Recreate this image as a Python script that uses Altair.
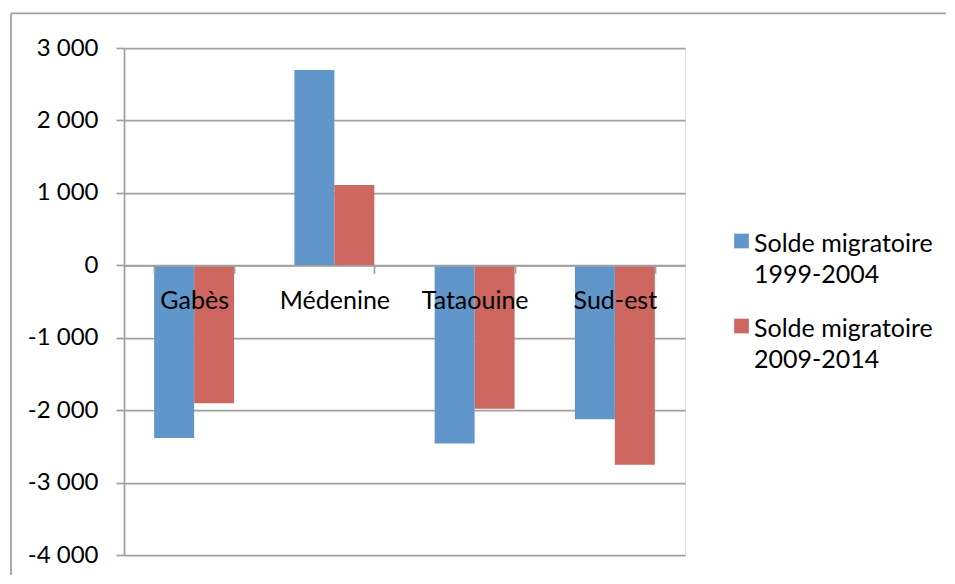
import altair as alt
import pandas as pd

categories = ["Gabès", "Médenine", "Tataouine", "Sud-est"]
series = ["Solde migratoire 1999-2004", "Solde migratoire 2009-2014"]
values_1999_2004 = [-2385, 2695, -2460, -2125]
values_2009_2014 = [-1905, 1110, -1980, -2755]
colors = ["#6096CA", "#CD6760"]

rows = []
for c, v1, v2 in zip(categories, values_1999_2004, values_2009_2014):
    rows.append({"region": c, "serie": series[0], "valeur": v1})
    rows.append({"region": c, "serie": series[1], "valeur": v2})
df = pd.DataFrame(rows)

W = 561
H = 507
FONT = "Lato"
GRID = "#A0A0A0"
# square legend symbol raised so that it sits beside the first label line
SYMBOL = "M-1,-2.43L1,-2.43L1,-0.43L-1,-0.43Z"

bars = alt.Chart(df).mark_bar().encode(
    x=alt.X(
        "region:N",
        sort=categories,
        scale=alt.Scale(paddingInner=0.43, paddingOuter=0.215),
        axis=alt.Axis(
            title=None,
            orient="bottom",
            offset=-(H * 4 / 7),
            zindex=1,
            domainColor=GRID,
            domainWidth=1.75,
            tickColor=GRID,
            tickWidth=1.75,
            tickSize=8,
            tickBand="extent",
            labelAngle=0,
            labelFont=FONT,
            labelFontSize=25,
            labelColor="#000000",
            labelPadding=35,
            labelBaseline="alphabetic",
            grid=False,
        ),
    ),
    xOffset=alt.XOffset("serie:N", sort=series, scale=alt.Scale(paddingInner=0)),
    y=alt.Y(
        "valeur:Q",
        scale=alt.Scale(domain=[-4000, 3000], nice=False, zero=False),
        axis=alt.Axis(
            title=None,
            values=[-4000, -3000, -2000, -1000, 0, 1000, 2000, 3000],
            labelExpr="(datum.value < 0 ? '-' : '') + replace(format(abs(datum.value), ','), ',', ' ')",
            domainColor=GRID,
            domainWidth=1.75,
            tickColor=GRID,
            tickWidth=1.75,
            tickSize=8,
            grid=True,
            gridColor=GRID,
            gridWidth=1.75,
            labelFont=FONT,
            labelFontSize=24,
            labelColor="#000000",
            labelPadding=18,
        ),
    ),
    color=alt.Color(
        "serie:N",
        sort=series,
        scale=alt.Scale(domain=series, range=colors),
        legend=alt.Legend(
            title=None,
            orient="none",
            legendX=605,
            legendY=191,
            padding=0,
            symbolType=SYMBOL,
            symbolSize=216,
            symbolStrokeWidth=0,
            symbolOffset=0,
            labelFont=FONT,
            labelFontSize=25,
            labelColor="#000000",
            labelLimit=400,
            labelBaseline="alphabetic",
            labelOffset=0,
            labelExpr="[slice(datum.label, 0, 16), slice(datum.label, 17)]",
            rowPadding=28,
        ),
    ),
)

frame = pd.DataFrame({"k": [0]})
left_border = alt.Chart(frame).mark_rule(color=GRID, strokeWidth=1.75).encode(
    x=alt.value(-113), y=alt.value(-34.6), y2=alt.value(527)
)
top_border = alt.Chart(frame).mark_rule(color=GRID, strokeWidth=1.75).encode(
    x=alt.value(-113), x2=alt.value(822), y=alt.value(-34.6)
)

chart = alt.layer(bars, left_border, top_border).properties(
    width=W,
    height=H,
    padding={"left": 2, "top": 4, "right": 0, "bottom": 0},
).configure_view(stroke=None).configure(style={"guide-label": {"lineHeight": 31}})

chart.save("out.html", embed_options={"renderer": "svg", "actions": False})
